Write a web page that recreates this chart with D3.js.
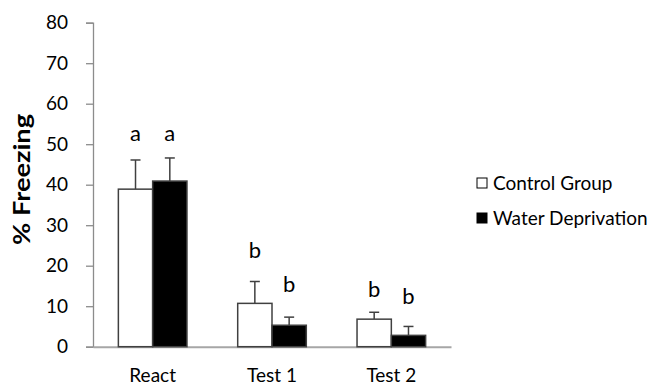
<!DOCTYPE html>
<html>
<head>
<meta charset="utf-8">
<script src="https://cdn.jsdelivr.net/npm/d3@7"></script>
<style>
  html, body { margin: 0; padding: 0; background: #fff; }
  svg { display: block; }
  text { font-family: Lato, "Open Sans", sans-serif; fill: #000; }
</style>
</head>
<body>
<svg id="chart" width="652" height="389"></svg>
<script>
// Freezing percentages by session and group
const categories = ["React", "Test 1", "Test 2"];
const seriesNames = ["Control Group", "Water Deprivation"];
const controlMeans = [38.9, 10.7, 6.8];
const controlErrors = [7.2, 5.4, 1.7];
const deprivationMeans = [40.9, 5.3, 2.8];
const deprivationErrors = [5.7, 2.0, 2.2];
// significance letters and the value height they sit at
const controlLetters = ["a", "b", "b"];
const controlLetterY = [52.8, 23.8, 14.1];
const deprivationLetters = ["a", "b", "b"];
const deprivationLetterY = [52.8, 15.4, 12.5];
const yTicks = [0, 10, 20, 30, 40, 50, 60, 70, 80];

const series = [
  { name: seriesNames[0], means: controlMeans, errs: controlErrors, letters: controlLetters, letterY: controlLetterY, fill: "#ffffff" },
  { name: seriesNames[1], means: deprivationMeans, errs: deprivationErrors, letters: deprivationLetters, letterY: deprivationLetterY, fill: "#000000" }
];

const svg = d3.select("#chart");
const plotLeft = 93, plotRight = 451, plotTop = 22.7, plotBottom = 346.7;

const x = d3.scaleBand().domain(categories).range([plotLeft, plotRight]).paddingInner(0).paddingOuter(0);
const y = d3.scaleLinear().domain([0, 80]).range([plotBottom, plotTop]);
const groupWidth = 68.6;
const xs = d3.scaleBand().domain(seriesNames).range([0, groupWidth]);
const offset = (x.bandwidth() - groupWidth) / 2;

// y axis
const yAxis = svg.append("g").attr("transform", `translate(${plotLeft},0)`)
  .call(d3.axisLeft(y).tickValues(yTicks).tickSize(7).tickPadding(18));
yAxis.select(".domain").attr("stroke", "#8c8c8c").attr("stroke-width", 1.3);
yAxis.selectAll(".tick line").attr("stroke", "#8c8c8c").attr("stroke-width", 1.3);
yAxis.selectAll(".tick text").attr("font-size", 19).attr("font-family", "Lato, sans-serif").attr("fill", "#000");

// x axis
const xAxis = svg.append("g").attr("transform", `translate(0,${plotBottom})`)
  .call(d3.axisBottom(x).tickSize(0).tickPadding(22));
xAxis.select(".domain").attr("stroke", "#a6a6a6").attr("stroke-width", 2);
xAxis.selectAll(".tick text").attr("font-size", 19).attr("font-family", "Lato, sans-serif").attr("fill", "#000");

// y axis title
svg.append("text")
  .attr("transform", `translate(30,179.5) rotate(-90)`)
  .attr("text-anchor", "middle")
  .attr("font-size", 23).attr("font-weight", "bold")
  .attr("textLength", 131).attr("lengthAdjust", "spacingAndGlyphs")
  .text("% Freezing");

const groups = svg.append("g");
series.forEach(s => {
  const bx = (c) => x(c) + offset + xs(s.name);
  const w = xs.bandwidth();
  const g = groups.append("g");
  // error bars
  g.selectAll("line.err").data(categories).join("line").attr("class", "err")
    .attr("x1", (c) => bx(c) + w / 2).attr("x2", (c) => bx(c) + w / 2)
    .attr("y1", (c, i) => y(s.means[i])).attr("y2", (c, i) => y(s.means[i] + s.errs[i]))
    .attr("stroke", "#404040").attr("stroke-width", 1.5);
  g.selectAll("line.cap").data(categories).join("line").attr("class", "cap")
    .attr("x1", (c) => bx(c) + w / 2 - 5).attr("x2", (c) => bx(c) + w / 2 + 5)
    .attr("y1", (c, i) => y(s.means[i] + s.errs[i])).attr("y2", (c, i) => y(s.means[i] + s.errs[i]))
    .attr("stroke", "#404040").attr("stroke-width", 1.5);
  // bars
  g.selectAll("rect").data(categories).join("rect")
    .attr("x", bx).attr("width", w)
    .attr("y", (c, i) => y(s.means[i]))
    .attr("height", (c, i) => y(0) - y(s.means[i]))
    .attr("fill", s.fill).attr("stroke", "#404040").attr("stroke-width", 1.5);
  // letters
  g.selectAll("text").data(categories).join("text")
    .attr("x", (c) => bx(c) + w / 2)
    .attr("y", (c, i) => y(s.letterY[i]))
    .attr("dy", "0.35em")
    .attr("text-anchor", "middle")
    .attr("font-size", 22)
    .text((c, i) => s.letters[i]);
});

// legend
const legend = svg.append("g");
series.forEach((s, i) => {
  const ly = 183 + i * 35;
  legend.append("rect").attr("x", 477).attr("y", ly - 5).attr("width", 10).attr("height", 10)
    .attr("fill", s.fill).attr("stroke", "#000").attr("stroke-width", 1);
  legend.append("text").attr("x", 493).attr("y", ly).attr("dy", "0.35em")
    .attr("font-size", 19).text(s.name);
});
</script>
</body>
</html>
